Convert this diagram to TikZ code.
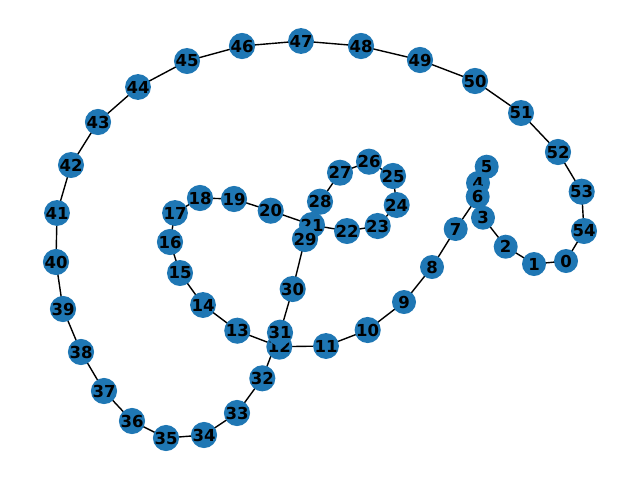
\documentclass[tikz,border=0pt]{standalone}
\usepackage{fontspec}
\setmainfont{DejaVu Sans}
\definecolor{nxblue}{HTML}{1F77B4}
\begin{document}
\begin{tikzpicture}[x=1pt,y=-1pt,
  vtx/.style={circle,fill=nxblue,minimum size=24pt,inner sep=0pt,font=\fontsize{16.5}{16.5}\selectfont\bfseries},
  edge/.style={line width=1.4pt,black}]
\useasboundingbox (0,0) rectangle (640,480);
\foreach \i/\x/\y in {0/566/261,1/534/264,2/505.7/246.7,3/483/217.7,4/478/183,5/486.7/166.7,6/477.7/196.7,7/455.7/229,8/432/267,9/404/302,10/367.7/330,11/326/346,12/279.3/346.7,13/237.3/330.7,14/203/305,15/180/273,16/170/242,17/175/213,18/200/198,19/234/199,20/270.7/210.7,21/312/225,22/347/231,23/377.7/226,24/396.7/205,25/393/176,26/369/161.7,27/340/172.7,28/320/201.7,29/305/239,30/292.7/289,31/280/332.7,32/262.3/378.3,33/237/413,34/204/435,35/166/438,36/132/421,37/104/391,38/81/352,39/63/309,40/56/262,41/57/213,42/71/165,43/98/122,44/138/87,45/187/61,46/242/46,47/301/41,48/361/46,49/420/60,50/475/81,51/521/113,52/558/152,53/581.7/191.7,54/584/231}
  \coordinate (p\i) at (\x,\y);
\foreach \i [evaluate=\i as \j using {int(mod(\i+1,55))}] in {0,...,54}
  \draw[edge] (p\i) -- (p\j);
\foreach \i in {0,...,54}
  \node[vtx] (n\i) at (p\i) {\i};
\end{tikzpicture}
\end{document}
